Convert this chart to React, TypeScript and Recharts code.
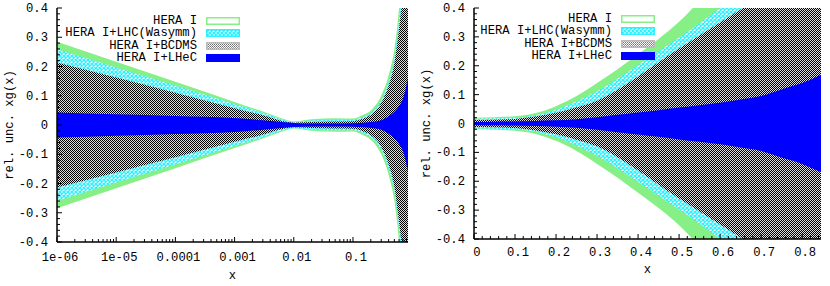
import React from 'react';
import { ComposedChart, Area, XAxis, YAxis, Legend, Label } from 'recharts';

const FONT = '"Liberation Mono", "Courier New", monospace';

// legend / series names
const seriesNames = ['HERA I', 'HERA I+LHC(Wasymm)', 'HERA I+BCDMS', 'HERA I+LHeC'];

// left panel, log x
const logX = [1e-6, 1e-5, 1e-4, 1e-3, 0.003, 0.007, 0.01, 0.02, 0.05, 0.1, 0.15, 0.2, 0.3, 0.4, 0.5, 0.6, 0.7, 0.85];
const logHera = [0.285, 0.216, 0.148, 0.079, 0.046, 0.02, 0.012, 0.02, 0.023, 0.022, 0.035, 0.05, 0.1, 0.17, 0.26, 0.4, 0.6, 0.9];
const logLhc = [0.26, 0.197, 0.135, 0.072, 0.042, 0.017, 0.01, 0.016, 0.018, 0.018, 0.028, 0.042, 0.085, 0.15, 0.23, 0.36, 0.5, 0.75];
const logBcdms = [0.214, 0.162, 0.11, 0.057, 0.033, 0.012, 0.008, 0.01, 0.012, 0.013, 0.022, 0.035, 0.075, 0.135, 0.21, 0.33, 0.45, 0.6];
const logLhec = [0.043, 0.037, 0.031, 0.024, 0.016, 0.009, 0.007, 0.005, 0.005, 0.006, 0.008, 0.01, 0.016, 0.03, 0.045, 0.065, 0.09, 0.16];

// right panel, linear x
const linX = [0, 0.05, 0.1, 0.15, 0.2, 0.25, 0.3, 0.35, 0.4, 0.45, 0.5, 0.55, 0.6, 0.65, 0.7, 0.75, 0.8, 0.85];
const linHera = [0.02, 0.022, 0.025, 0.036, 0.06, 0.095, 0.14, 0.188, 0.24, 0.293, 0.352, 0.425, 0.5, 0.58, 0.66, 0.75, 0.85, 0.95];
const linLhc = [0.017, 0.018, 0.02, 0.029, 0.048, 0.077, 0.112, 0.155, 0.203, 0.25, 0.298, 0.347, 0.4, 0.46, 0.52, 0.59, 0.66, 0.74];
const linBcdms = [0.012, 0.013, 0.016, 0.024, 0.037, 0.056, 0.079, 0.117, 0.163, 0.212, 0.26, 0.305, 0.35, 0.395, 0.44, 0.49, 0.54, 0.59];
const linLhec = [0.005, 0.006, 0.007, 0.009, 0.011, 0.015, 0.022, 0.03, 0.038, 0.046, 0.055, 0.063, 0.072, 0.083, 0.095, 0.118, 0.14, 0.172];

// ticks
const yMajor = [-0.4, -0.3, -0.2, -0.1, 0, 0.1, 0.2, 0.3, 0.4];
const logMajor = [1e-6, 1e-5, 1e-4, 1e-3, 0.01, 0.1];
const logLabels = ['1e-06', '1e-05', '0.0001', '0.001', '0.01', '0.1'];
const linMajor = [0, 0.1, 0.2, 0.3, 0.4, 0.5, 0.6, 0.7, 0.8];
const linLabels = ['0', '0.1', '0.2', '0.3', '0.4', '0.5', '0.6', '0.7', '0.8'];

const yTicks: number[] = [];
for (let i = 0; i <= 40; i++) yTicks.push(Math.round((-0.4 + i * 0.02) * 100) / 100);
const logTicks: number[] = [];
logMajor.forEach(m => {
  for (let k = 1; k <= 9; k++) if (m * k <= 0.85) logTicks.push(m * k);
});
const linTicks: number[] = [];
for (let i = 0; i <= 42; i++) linTicks.push(Math.round(i * 0.02 * 100) / 100);

const near = (list: number[], v: number) => list.findIndex(m => Math.abs(m - v) < Math.abs(m) * 1e-6 + 1e-9);

const band = (u: number) => [-u, u];

const logData = logX.map((x, i) => ({
  x,
  hera: band(logHera[i]),
  lhc: band(logLhc[i]),
  bcdms: band(logBcdms[i]),
  lhec: band(logLhec[i]),
}));

const linData = linX.map((x, i) => ({
  x,
  hera: band(linHera[i]),
  lhc: band(linLhc[i]),
  bcdms: band(linBcdms[i]),
  lhec: band(linLhec[i]),
}));

const GREEN = '#86f086';
const CYAN = '#2ef0ff';
const BLUE = '#0000ff';

const Patterns = ({ id }: { id: string }) => (
  <defs>
    <pattern id={`${id}-cyan`} width={4} height={4} patternUnits="userSpaceOnUse">
      <rect width={4} height={4} fill="#ffffff" />
      <path d="M0,0L4,4M4,0L0,4" stroke={CYAN} strokeWidth={1.4} />
    </pattern>
    <pattern id={`${id}-gray`} width={2} height={2} patternUnits="userSpaceOnUse">
      <rect width={2} height={2} fill="#dedede" shapeRendering="crispEdges" />
      <rect width={1} height={1} fill="#000000" shapeRendering="crispEdges" />
      <rect x={1} y={1} width={1} height={1} fill="#000000" shapeRendering="crispEdges" />
    </pattern>
    <pattern id={`${id}-grayL`} width={2} height={2} patternUnits="userSpaceOnUse">
      <rect width={2} height={2} fill="#ffffff" shapeRendering="crispEdges" />
      <rect width={1} height={1} fill="#707070" shapeRendering="crispEdges" />
      <rect x={1} y={1} width={1} height={1} fill="#909090" shapeRendering="crispEdges" />
    </pattern>
  </defs>
);

const bandFill = (id: string, i: number) =>
  [GREEN, `url(#${id}-cyan)`, `url(#${id}-gray)`, BLUE][i];

const swatchFill = (id: string, i: number) =>
  ['#ffffff', `url(#${id}-cyan)`, `url(#${id}-grayL)`, BLUE][i];

const renderLegend = (id: string) => () => (
  <div style={{ fontFamily: FONT, fontSize: 12.2, color: '#000' }}>
    {seriesNames.map((name, i) => (
      <div key={name} style={{ display: 'flex', alignItems: 'center', justifyContent: 'flex-end', height: 12.5 }}>
        <span style={{ whiteSpace: 'pre', lineHeight: '12px' }}>{name}</span>
        <svg width={34} height={8} style={{ marginLeft: 9, display: 'block' }}>
          <rect
            x={0.75}
            y={0.75}
            width={32.5}
            height={6.5}
            fill={swatchFill(id, i)}
            stroke={[GREEN, CYAN, '#bbbbbb', BLUE][i]}
            strokeWidth={1.5}
          />
        </svg>
      </div>
    ))}
  </div>
);

const makeTick = (side: string, majors: number[], labels: string[] | null, labelGap: number) => (props: any) => {
  const { x, y, payload } = props;
  const mi = near(majors, payload.value);
  const len = mi >= 0 ? 5 : 3;
  let line = null;
  let text = null;
  if (side === 'bottom') {
    line = <line x1={x} y1={y} x2={x} y2={y - len} stroke="#000" strokeWidth={1} />;
    if (labels && mi >= 0)
      text = (
        <text x={x + 3} y={y + labelGap} textAnchor="middle" fontSize={12.2} fontFamily={FONT} fill="#000">
          {labels[mi]}
        </text>
      );
  } else if (side === 'top') {
    line = <line x1={x} y1={y} x2={x} y2={y + len} stroke="#000" strokeWidth={1} />;
  } else if (side === 'left') {
    line = <line x1={x} y1={y} x2={x + len} y2={y} stroke="#000" strokeWidth={1} />;
    if (labels && mi >= 0)
      text = (
        <text x={x - 9} y={y + 4} textAnchor="end" fontSize={12.2} fontFamily={FONT} fill="#000">
          {labels[mi]}
        </text>
      );
  } else {
    line = <line x1={x} y1={y} x2={x - len} y2={y} stroke="#000" strokeWidth={1} />;
  }
  return (
    <g>
      {line}
      {text}
    </g>
  );
};

const yLabels = yMajor.map(v => (v === 0 ? '0' : v.toFixed(1)));

interface PanelProps {
  id: string;
  data: any[];
  log: boolean;
  margin: { top: number; right: number; bottom: number; left: number };
  yWidth: number;
  xHeight: number;
  tickGap: number;
  yLabelOffset: number;
  xLabelOffset: number;
  legendTop: number;
}

const Panel = ({ id, data, log, margin, yWidth, xHeight, tickGap, yLabelOffset, xLabelOffset, legendTop }: PanelProps) => {
  const xTicks = log ? logTicks : linTicks;
  const xMajor = log ? logMajor : linMajor;
  const xLabels = log ? logLabels : linLabels;
  const xDomain = log ? [1e-6, 0.85] : [0, 0.846];
  const axisLine = { stroke: '#000', strokeWidth: 1.5 };
  const keys = ['hera', 'lhc', 'bcdms', 'lhec'];
  return (
    <ComposedChart width={415} height={286} data={data} margin={margin}>
      <Patterns id={id} />
      <XAxis
        dataKey="x"
        type="number"
        scale={log ? 'log' : 'linear'}
        domain={xDomain}
        allowDataOverflow
        ticks={xTicks}
        interval={0}
        height={xHeight}
        tickSize={0}
        tickMargin={0}
        tickLine={false}
        axisLine={axisLine}
        tick={makeTick('bottom', xMajor, xLabels, tickGap)}
      >
        <Label value="x" position="insideBottom" offset={xLabelOffset} fontSize={12.2} fontFamily={FONT} fill="#000" />
      </XAxis>
      <XAxis
        xAxisId="top"
        orientation="top"
        dataKey="x"
        type="number"
        scale={log ? 'log' : 'linear'}
        domain={xDomain}
        allowDataOverflow
        ticks={xTicks}
        interval={0}
        height={0}
        tickSize={0}
        tickMargin={0}
        tickLine={false}
        axisLine={axisLine}
        tick={makeTick('top', xMajor, null, 0)}
      />
      <YAxis
        type="number"
        domain={[-0.4, 0.4]}
        allowDataOverflow
        ticks={yTicks}
        interval={0}
        width={yWidth}
        tickSize={0}
        tickMargin={0}
        tickLine={false}
        axisLine={axisLine}
        tick={makeTick('left', yMajor, yLabels, 0)}
      >
        <Label
          value="rel. unc. xg(x)"
          angle={-90}
          position="insideLeft"
          offset={yLabelOffset}
          fontSize={12.2}
          fontFamily={FONT}
          fill="#000"
          style={{ textAnchor: 'middle' }}
        />
      </YAxis>
      <YAxis
        yAxisId="right"
        orientation="right"
        type="number"
        domain={[-0.4, 0.4]}
        allowDataOverflow
        ticks={yTicks}
        interval={0}
        width={0}
        tickSize={0}
        tickMargin={0}
        tickLine={false}
        axisLine={axisLine}
        tick={makeTick('right', yMajor, null, 0)}
      />
      {keys.map((k, i) => (
        <Area
          key={k}
          dataKey={k}
          name={seriesNames[i]}
          type="monotone"
          fill={bandFill(id, i)}
          fillOpacity={1}
          stroke="none"
          dot={false}
          activeDot={false}
          isAnimationActive={false}
        />
      ))}
      <Legend
        layout="vertical"
        align="center"
        verticalAlign="middle"
        wrapperStyle={{ left: 40, top: legendTop, width: 200 }}
        content={renderLegend(id)}
      />
    </ComposedChart>
  );
};

export default function App() {
  return (
    <div
      style={{
        position: 'absolute',
        left: 0,
        top: 0,
        width: 830,
        height: 286,
        display: 'flex',
        background: '#fff',
        fontFamily: FONT,
      }}
    >
      <Panel
        id="L"
        data={logData}
        log
        margin={{ top: 8, right: 7, bottom: 0, left: 0 }}
        yWidth={57}
        xHeight={44}
        tickGap={19}
        yLabelOffset={9}
        xLabelOffset={7}
        legendTop={14.5}
      />
      <Panel
        id="R"
        data={linData}
        log={false}
        margin={{ top: 8, right: 9, bottom: 0, left: 0 }}
        yWidth={59}
        xHeight={47}
        tickGap={17}
        yLabelOffset={11}
        xLabelOffset={13}
        legendTop={12.5}
      />
    </div>
  );
}
